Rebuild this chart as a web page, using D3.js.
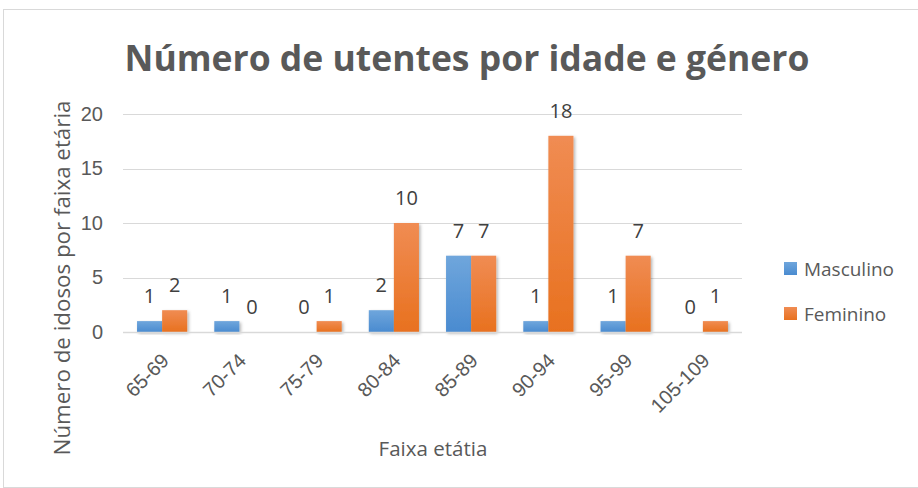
<!DOCTYPE html>
<html><head><meta charset="utf-8">
<script src="https://cdn.jsdelivr.net/npm/d3@7"></script>
<style>body{margin:0;background:#fff;}svg{display:block;font-family:"Open Sans","Noto Sans",sans-serif;}</style>
</head><body>
<svg id="c" width="918" height="488"></svg>
<script>
const categories = ["65-69","70-74","75-79","80-84","85-89","90-94","95-99","105-109"];
const masculino = [1,1,0,2,7,1,1,0];
const feminino = [2,0,1,10,7,18,7,1];
const seriesNames = ["Masculino","Feminino"];
const yTicks = [0,5,10,15,20];

const svg = d3.select("#c");
const defs = svg.append("defs");
function grad(id, top, bottom){
  const g = defs.append("linearGradient").attr("id",id).attr("x1",0).attr("y1",0).attr("x2",0).attr("y2",1);
  g.append("stop").attr("offset","0%").attr("stop-color",top);
  g.append("stop").attr("offset","100%").attr("stop-color",bottom);
}
grad("gBlue","#6fa6dc","#4a8bd0");
grad("gOrange","#f08c53","#e8711f");
const f = defs.append("filter").attr("id","sh").attr("x","-20%").attr("y","-10%").attr("width","150%").attr("height","130%");
f.append("feDropShadow").attr("dx",1.5).attr("dy",1.5).attr("stdDeviation",1.5).attr("flood-color","#000").attr("flood-opacity",0.3);

function fit(sel, w){
  const l = sel.node().getComputedTextLength();
  const fs = +sel.attr("font-size");
  sel.attr("font-size", fs*w/l);
  return fs*w/l;
}

svg.append("rect").attr("x",3.5).attr("y",9.5).attr("width",918).attr("height",478).attr("fill","#fff").attr("stroke","#d9d9d9");

const x = d3.scaleBand().domain(categories).range([123.5,741.5]);
const x1 = d3.scaleBand().domain(seriesNames).range([0,x.bandwidth()]).paddingOuter(0.54).paddingInner(0);
const y = d3.scaleLinear().domain([0,20]).range([332,114]);

svg.append("g").selectAll("line").data(yTicks.filter(d=>d>0)).join("line")
  .attr("x1",123).attr("x2",742).attr("y1",d=>Math.round(y(d))+0.5).attr("y2",d=>Math.round(y(d))+0.5)
  .attr("stroke","#d9d9d9").attr("stroke-width",1);

const yAxis = d3.axisLeft(y).tickValues(yTicks).tickSize(0).tickPadding(0);
const ya = svg.append("g").attr("transform","translate(103,0)").call(yAxis);
ya.select(".domain").remove();
ya.selectAll("text").attr("font-size",20).attr("fill","#595959").attr("font-family",null);

const data = categories.map((c,i)=>({c, vals:[{s:"Masculino",v:masculino[i]},{s:"Feminino",v:feminino[i]}]}));
const colors = {Masculino:"url(#gBlue)",Feminino:"url(#gOrange)"};

const groups = svg.append("g").selectAll("g").data(data).join("g")
  .attr("transform",d=>`translate(${x(d.c)},0)`);
groups.selectAll("rect").data(d=>d.vals).join("rect")
  .attr("x",d=>x1(d.s)).attr("width",x1.bandwidth())
  .attr("y",d=>y(d.v)).attr("height",d=>y(0)-y(d.v))
  .attr("fill",d=>colors[d.s]).attr("filter","url(#sh)");
groups.selectAll("text").data(d=>d.vals).join("text")
  .attr("x",d=>x1(d.s)+x1.bandwidth()/2).attr("y",d=>y(d.v)-18)
  .attr("text-anchor","middle").attr("font-size",20).attr("fill","#404040")
  .text(d=>d.v);

svg.append("line").attr("x1",123).attr("x2",742).attr("y1",332.5).attr("y2",332.5).attr("stroke","#d9d9d9").attr("stroke-width",1.5);

const xa = svg.append("g").attr("transform","translate(0,332)").call(d3.axisBottom(x).tickSize(0).tickPadding(0));
xa.select(".domain").remove();
xa.selectAll("text").attr("font-size",20).attr("fill","#595959").attr("font-family",null)
  .attr("text-anchor","end").attr("dy",null).attr("y",0)
  .attr("transform","translate(8,30) rotate(-45)");

const title = svg.append("text").attr("x",467).attr("y",71).attr("text-anchor","middle")
  .attr("font-size",36).attr("font-weight","bold").attr("fill","#595959")
  .text("Número de utentes por idade e género");
fit(title, 685);

const yl = svg.append("text").attr("transform","translate(70,278) rotate(-90)").attr("text-anchor","middle")
  .attr("font-size",19).attr("fill","#595959").text("Número de idosos por faixa etária");
fit(yl, 355);
const xl = svg.append("text").attr("x",433).attr("y",456).attr("text-anchor","middle")
  .attr("font-size",19).attr("fill","#595959").text("Faixa etátia");
fit(xl, 109);

const lg = svg.append("g").selectAll("g").data(seriesNames).join("g")
  .attr("transform",(d,i)=>`translate(784,${262+i*45})`);
lg.append("rect").attr("width",13).attr("height",13).attr("fill",d=>colors[d]);
const lt = lg.append("text").attr("x",20).attr("y",14).attr("font-size",19).attr("fill","#595959").text(d=>d);
const lfs = fit(d3.select(lt.nodes()[0]), 90);
lt.attr("font-size", lfs);
</script>
</body></html>
